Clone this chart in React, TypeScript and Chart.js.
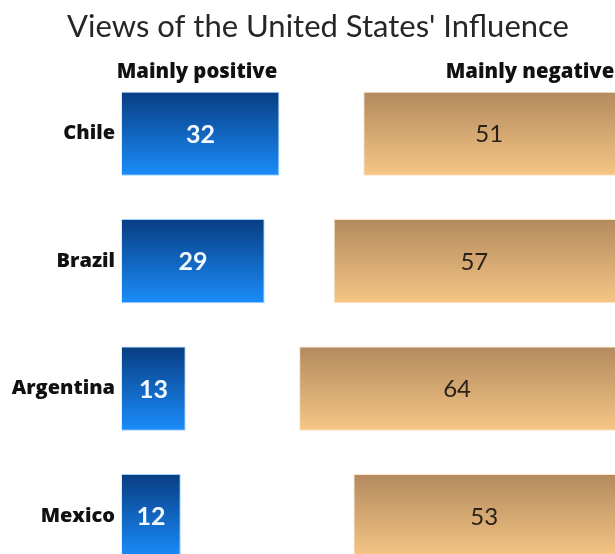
import React, { useEffect, useRef } from "react";
import { Chart, registerables } from "chart.js";

Chart.register(...registerables);

const titleText = "Views of the United States' Influence";
const countries = ["Chile", "Brazil", "Argentina", "Mexico"];
const seriesNames = ["Mainly positive", "Mainly negative"];
const positiveValues = [32, 29, 13, 12];
const negativeValues = [51, 57, 64, 53];
const axisMax = 100;

const BAR_PCT = 0.66;
const FONT = "Lato, 'Open Sans', sans-serif";
const BOLD_FONT = "'Open Sans', Lato, sans-serif";

function makeGradient(top: string, bottom: string) {
  return (ctx: any) => {
    const chart = ctx.chart;
    const yScale = chart.scales && chart.scales.y;
    if (!chart.chartArea || !yScale || ctx.dataIndex === undefined) return bottom;
    const c = yScale.getPixelForValue(ctx.dataIndex);
    const half = ((yScale.height / countries.length) * BAR_PCT) / 2;
    const g = chart.ctx.createLinearGradient(0, c - half, 0, c + half);
    g.addColorStop(0, top);
    g.addColorStop(1, bottom);
    return g;
  };
}

const textPlugin = {
  id: "textPlugin",
  afterDraw(chart: any) {
    const ctx = chart.ctx;
    ctx.save();
    // title
    ctx.fillStyle = "#262626";
    ctx.font = `400 31px ${FONT}`;
    ctx.textAlign = "center";
    ctx.textBaseline = "alphabetic";
    ctx.fillText(titleText, 318, 37);
    // column headers
    ctx.fillStyle = "#111";
    ctx.font = `800 20.3px ${BOLD_FONT}`;
    ctx.fillText(seriesNames[0], 197, 78);
    ctx.fillText(seriesNames[1], 530, 78);
    // value labels
    ctx.textBaseline = "middle";
    chart.data.datasets.forEach((ds: any, di: number) => {
      const meta = chart.getDatasetMeta(di);
      meta.data.forEach((el: any, i: number) => {
        const x = (el.x + el.base) / 2;
        const v = ds.data[i];
        if (di === 0) {
          ctx.fillStyle = "#f4f8ff";
          ctx.font = `700 25px ${FONT}`;
        } else {
          ctx.fillStyle = "#2a2118";
          ctx.font = `400 24px ${FONT}`;
        }
        ctx.fillText(String(v), x, el.y + 1);
      });
    });
    ctx.restore();
  },
};

export default function App() {
  const ref = useRef<HTMLCanvasElement | null>(null);
  useEffect(() => {
    if (!ref.current) return;
    const chart = new Chart(ref.current, {
      type: "bar",
      data: {
        labels: countries,
        datasets: [
          {
            label: seriesNames[0],
            data: positiveValues,
            xAxisID: "x",
            grouped: false,
            backgroundColor: makeGradient("#083d82", "#1a8dfb"),
            borderColor: "rgba(150,205,255,0.9)",
            borderWidth: 1,
            categoryPercentage: 1,
            barPercentage: BAR_PCT,
          } as any,
          {
            label: seriesNames[1],
            data: negativeValues,
            xAxisID: "x2",
            grouped: false,
            backgroundColor: makeGradient("#b38a5f", "#f6c685"),
            borderColor: "rgba(250,225,190,0.9)",
            borderWidth: 1,
            categoryPercentage: 1,
            barPercentage: BAR_PCT,
          } as any,
        ],
      },
      options: {
        indexAxis: "y",
        responsive: false,
        animation: false,
        devicePixelRatio: 1,
        layout: { padding: { left: 0, right: 0, top: 70, bottom: 20.25 } },
        plugins: {
          legend: { display: false },
          title: { display: false },
          tooltip: { enabled: false },
        },
        scales: {
          x: { display: false, min: 0, max: axisMax },
          x2: { display: false, min: 0, max: axisMax, reverse: true },
          y: {
            afterFit: (s: any) => {
              s.width = 121.5;
            },
            grid: { display: false, drawTicks: false },
            border: { display: false },
            ticks: {
              padding: 6.5,
              color: "#111",
              font: { family: BOLD_FONT, size: 20, weight: "800" as any },
            },
          },
        },
      } as any,
      plugins: [textPlugin],
    });
    return () => chart.destroy();
  }, []);
  return (
    <div
      style={{
        position: "absolute",
        left: 0,
        top: 0,
        width: 615,
        height: 554,
        overflow: "hidden",
        background: "#fff",
      }}
    >
      <canvas ref={ref} width={615} height={600} style={{ display: "block" }} />
    </div>
  );
}
